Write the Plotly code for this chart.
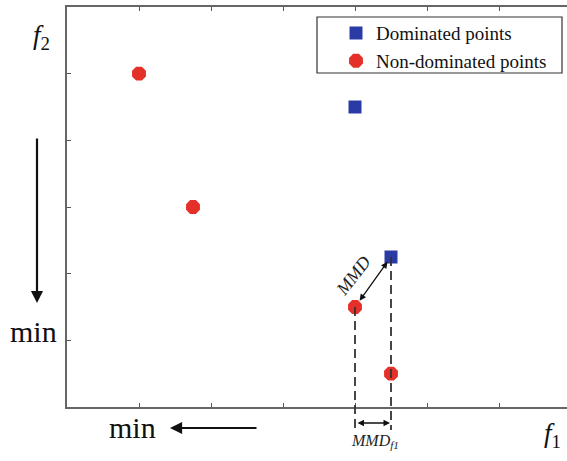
import plotly.graph_objects as go

# Objective values (f1, f2) for the two groups of solutions
dominated_f1 = [4.0, 4.5]
dominated_f2 = [4.5, 2.25]
nondominated_f1 = [1.0, 1.75, 4.0, 4.5]
nondominated_f2 = [5.0, 3.0, 1.5, 0.5]

x_ticks = [1, 2, 3, 4, 5, 6]
y_ticks = [1, 2, 3, 4, 5]

X_MAX = 500 / 72
Y_MAX = 6.0

RED = "#e5302a"
BLUE = "#2b3ba6"
FONT = "Liberation Serif"

fig = go.Figure()
fig.add_trace(go.Scatter(
    x=dominated_f1, y=dominated_f2, mode="markers", name="Dominated points",
    legendgroup="a",
    marker=dict(symbol="square", size=13, color=BLUE, line=dict(width=0)),
))
fig.add_trace(go.Scatter(
    x=nondominated_f1, y=nondominated_f2, mode="markers", name="Non-dominated points",
    legendgroup="b",
    marker=dict(symbol="octagon", size=15, color=RED, line=dict(width=0)),
))

# Pair used for the distance illustration
p_red = (nondominated_f1[2], nondominated_f2[2])
p_blue = (dominated_f1[1], dominated_f2[1])

y_below = -0.0575
shapes = []
for (px, py) in (p_red, p_blue):
    shapes.append(dict(type="line", xref="x", yref="paper",
                       x0=px, x1=px, y0=py / Y_MAX, y1=y_below,
                       line=dict(color="#333333", width=1.8, dash="9px,5px")))
# legend frame
shapes.append(dict(type="rect", xref="paper", yref="paper",
                   x0=0.5, x1=0.99, y0=0.835, y1=0.975,
                   line=dict(color="#333333", width=1.2), fillcolor="rgba(0,0,0,0)"))


def label(x, y, text, size, xref="paper", yref="paper", angle=0, color="#111111"):
    return dict(x=x, y=y, xref=xref, yref=yref, text=text, showarrow=False,
                xanchor="center", yanchor="middle", textangle=angle,
                font=dict(family=FONT, size=size, color=color))


annotations = [
    # MMD double arrow between the dominated point and its nearest non-dominated point
    dict(x=p_blue[0], y=p_blue[1], ax=p_red[0], ay=p_red[1], axref="x", ayref="y",
         xref="x", yref="y", text="", showarrow=True, arrowside="end+start",
         arrowhead=2, startarrowhead=2, arrowsize=1, startarrowsize=1,
         arrowwidth=1.3, arrowcolor="#111111", standoff=6, startstandoff=6),
    label(3.97, 1.97, "<i>MMD</i>", 18, xref="x", yref="y", angle=-52, color="#222222"),
    # MMD along f1
    dict(x=p_blue[0], y=-0.04, ax=p_red[0], ay=0, axref="x", ayref="pixel",
         xref="x", yref="paper", text="", showarrow=True, arrowside="end+start",
         arrowhead=2, startarrowhead=2, arrowsize=1, startarrowsize=1,
         arrowwidth=1.3, arrowcolor="#111111", standoff=1, startstandoff=1),
    label((p_red[0] + p_blue[0]) / 2 + 0.03, -0.085, "<i>MMD<sub>f1</sub></i>", 16,
          xref="x", color="#222222"),
    # axis names
    label(-0.052, 0.925, "<i>f</i><sub>2</sub>", 27),
    label(0.97, -0.07, "<i>f</i><sub>1</sub>", 27),
    # minimisation directions
    label(-0.068, 0.19, "min", 30),
    label(0.13, -0.052, "min", 30),
    dict(x=-0.06, y=0.26, xref="paper", yref="paper", ax=0, ay=-166, text="",
         showarrow=True, arrowhead=2, arrowsize=1.1, arrowwidth=2.2, arrowcolor="#111111"),
    dict(x=0.206, y=-0.0525, xref="paper", yref="paper", ax=88, ay=0, text="",
         showarrow=True, arrowhead=2, arrowsize=1.1, arrowwidth=2.2, arrowcolor="#111111"),
]

axis_common = dict(showgrid=False, zeroline=False, showticklabels=False,
                   ticks="inside", ticklen=4, tickwidth=1, tickcolor="#555555",
                   showline=True, linecolor="#666666", linewidth=1.5)

fig.update_layout(
    width=567, height=461,
    margin=dict(l=67, r=0, t=7, b=54),
    paper_bgcolor="white", plot_bgcolor="white",
    xaxis=dict(range=[0, X_MAX], tickvals=x_ticks, mirror="ticks", **axis_common),
    yaxis=dict(range=[0, Y_MAX], tickvals=y_ticks, **axis_common),
    showlegend=True,
    legend=dict(x=0.538, y=0.982, xanchor="left", yanchor="top",
                bgcolor="rgba(0,0,0,0)", borderwidth=0, tracegroupgap=0,
                font=dict(family=FONT, size=19, color="#111111")),
    shapes=shapes,
    annotations=annotations,
)

fig.write_html("out.html")
